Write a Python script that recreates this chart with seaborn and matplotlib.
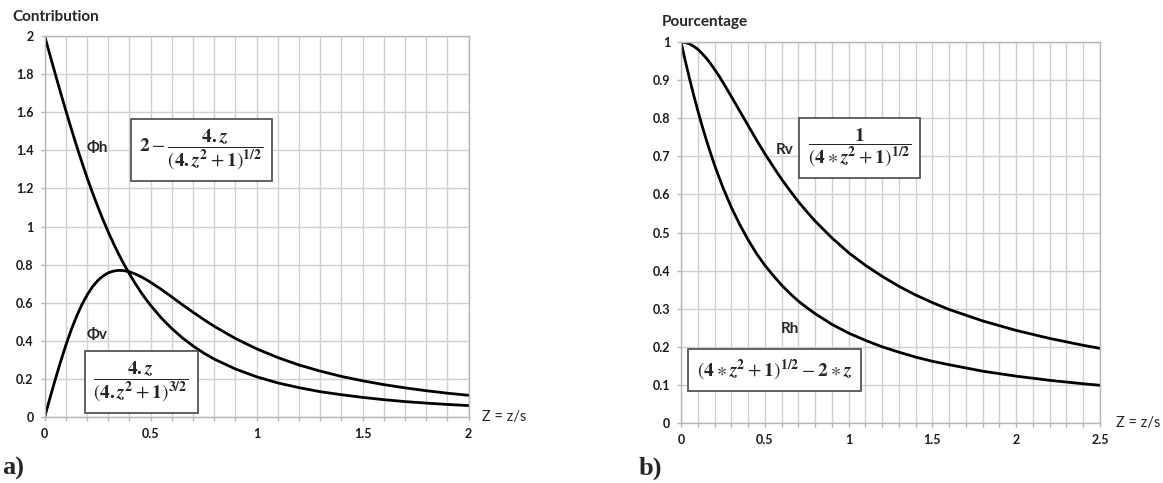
import matplotlib
matplotlib.use("Agg")
import matplotlib.pyplot as plt
import numpy as np
import pandas as pd
import seaborn as sns

# panel a) contributions
z_a = [0, 0.025, 0.05, 0.075, 0.1, 0.125, 0.15, 0.175, 0.2, 0.225, 0.25, 0.275, 0.3, 0.325,
       0.35, 0.375, 0.4, 0.425, 0.45, 0.475, 0.5, 0.55, 0.6, 0.65, 0.7, 0.75, 0.8, 0.9,
       1.0, 1.1, 1.2, 1.3, 1.4, 1.5, 1.6, 1.7, 1.8, 1.9, 2.0]
phi_h = [2.0, 1.900, 1.801, 1.703, 1.608, 1.515, 1.425, 1.339, 1.257, 1.179, 1.106, 1.036, 0.971, 0.910,
         0.853, 0.800, 0.751, 0.705, 0.662, 0.622, 0.586, 0.520, 0.464, 0.415, 0.373, 0.336, 0.304, 0.252,
         0.211, 0.179, 0.154, 0.133, 0.117, 0.103, 0.091, 0.081, 0.073, 0.066, 0.060]
phi_v = [0.0, 0.100, 0.197, 0.290, 0.377, 0.457, 0.527, 0.589, 0.640, 0.683, 0.716, 0.740, 0.757, 0.766,
         0.770, 0.768, 0.762, 0.752, 0.739, 0.724, 0.707, 0.670, 0.630, 0.589, 0.550, 0.512, 0.476, 0.412,
         0.358, 0.312, 0.273, 0.241, 0.213, 0.190, 0.170, 0.153, 0.138, 0.125, 0.114]

# panel b) percentages
z_b = [0, 0.025, 0.05, 0.075, 0.1, 0.125, 0.15, 0.175, 0.2, 0.225, 0.25, 0.3, 0.35, 0.4, 0.45,
       0.5, 0.55, 0.6, 0.65, 0.7, 0.75, 0.8, 0.9, 1.0, 1.1, 1.2, 1.3, 1.4, 1.5, 1.6, 1.8,
       2.0, 2.2, 2.4, 2.5]
r_v = [1.0, 0.999, 0.995, 0.989, 0.981, 0.970, 0.958, 0.944, 0.928, 0.912, 0.894, 0.857, 0.819, 0.781, 0.743,
       0.707, 0.673, 0.640, 0.610, 0.581, 0.555, 0.530, 0.486, 0.447, 0.414, 0.385, 0.359, 0.336, 0.316, 0.298, 0.268,
       0.243, 0.222, 0.204, 0.196]
r_h = [1.0, 0.951, 0.905, 0.861, 0.820, 0.781, 0.744, 0.710, 0.677, 0.647, 0.618, 0.566, 0.521, 0.481, 0.445,
       0.414, 0.387, 0.362, 0.340, 0.320, 0.303, 0.287, 0.259, 0.236, 0.217, 0.200, 0.186, 0.173, 0.162, 0.153, 0.136,
       0.123, 0.112, 0.103, 0.099]

sns.set_theme(style="whitegrid")
plt.rcParams["font.family"] = ["Lato", "DejaVu Sans"]
plt.rcParams["mathtext.fontset"] = "stix"

fig = plt.figure(figsize=(11.63, 4.83), dpi=100)
ax1 = fig.add_axes([0.0384, 0.1366, 0.3646, 0.7889])
ax2 = fig.add_axes([0.5856, 0.1242, 0.3602, 0.7888])

grid_c = "#cfcfcf"
box = dict(boxstyle="square,pad=0.45", fc="white", ec="#555555", lw=1.3)


def style_axis(ax, xmax, ymax, ymajor):
    ax.set_xlim(0, xmax)
    ax.set_ylim(0, ymax)
    ax.set_xticks(np.round(np.arange(0, xmax + 1e-9, 0.1), 2), minor=True)
    ax.set_xticks(np.round(np.arange(0, xmax + 1e-9, 0.5), 2))
    ax.set_yticks(np.round(np.arange(0, ymax + 1e-9, ymajor), 2))
    ax.set_xticklabels([f"{v:g}" for v in ax.get_xticks()])
    ax.set_yticklabels([f"{v:g}" for v in ax.get_yticks()])
    ax.grid(True, which="both", color=grid_c, lw=1.0)
    ax.set_axisbelow(True)
    for s in ax.spines.values():
        s.set_color("#b5b5b5")
        s.set_linewidth(1.0)
    ax.tick_params(axis="both", which="both", length=3, color="#b5b5b5", width=1.0,
                   bottom=True, left=True, labelsize=9, labelcolor="#1a1a1a")
    ax.tick_params(axis="x", pad=5)
    ax.tick_params(axis="y", pad=5)
    for lab in ax.get_xticklabels() + ax.get_yticklabels():
        lab.set_fontweight("bold")
    ax.set_xlabel("")
    ax.set_ylabel("")


# ---- panel a
df_a = pd.DataFrame({"z": z_a, "phi_h": phi_h, "phi_v": phi_v})
sns.lineplot(data=df_a, x="z", y="phi_h", ax=ax1, color="black", lw=2)
sns.lineplot(data=df_a, x="z", y="phi_v", ax=ax1, color="black", lw=2)
style_axis(ax1, 2, 2, 0.2)

ax1.text(0.247, 1.41, "Φh", fontsize=11, fontweight="bold", ha="center", va="center")
ax1.text(0.74, 1.40, r"$\mathbf{2}-\dfrac{\mathbf{4.}\boldsymbol{z}}{(\mathbf{4.}\boldsymbol{z}^{\mathbf{2}}+\mathbf{1})^{\mathbf{1/2}}}$",
         fontsize=14, ha="center", va="center", bbox=box)
ax1.text(0.247, 0.43, "Φv", fontsize=11, fontweight="bold", ha="center", va="center")
ax1.text(0.455, 0.184, r"$\dfrac{\mathbf{4.}\boldsymbol{z}}{(\mathbf{4.}\boldsymbol{z}^{\mathbf{2}}+\mathbf{1})^{\mathbf{3/2}}}$",
         fontsize=14, ha="center", va="center", bbox=box)
ax1.text(2.065, 0, "Z = z/s", fontsize=10.5, ha="left", va="center", clip_on=False)
fig.text(0.0103, 0.965, "Contribution", fontsize=11, fontweight="bold", ha="left", va="center")
fig.text(0.002, 0.031, "a)", fontsize=19, fontweight="bold", family="Liberation Serif", ha="left", va="center")

# ---- panel b
df_b = pd.DataFrame({"z": z_b, "r_v": r_v, "r_h": r_h})
sns.lineplot(data=df_b, x="z", y="r_v", ax=ax2, color="black", lw=2)
sns.lineplot(data=df_b, x="z", y="r_h", ax=ax2, color="black", lw=2)
style_axis(ax2, 2.5, 1, 0.1)

ax2.text(0.62, 0.716, "Rv", fontsize=11, fontweight="bold", ha="center", va="center")
ax2.text(1.066, 0.722, r"$\dfrac{\mathbf{1}}{(\mathbf{4}\ast\boldsymbol{z}^{\mathbf{2}}+\mathbf{1})^{\mathbf{1/2}}}$",
         fontsize=14, ha="center", va="center", bbox=box)
ax2.text(0.65, 0.247, "Rh", fontsize=11, fontweight="bold", ha="center", va="center")
ax2.text(0.56, 0.139, r"$(\mathbf{4}\ast\boldsymbol{z}^{\mathbf{2}}+\mathbf{1})^{\mathbf{1/2}}-\mathbf{2}\ast\boldsymbol{z}$",
         fontsize=14, ha="center", va="center", bbox=box)
ax2.text(2.595, 0, "Z = z/s", fontsize=10.5, ha="left", va="center", clip_on=False)
fig.text(0.569, 0.954, "Pourcentage", fontsize=11, fontweight="bold", ha="left", va="center")
fig.text(0.549, 0.031, "b)", fontsize=19, fontweight="bold", family="Liberation Serif", ha="left", va="center")

fig.savefig("out.png", dpi=100)
